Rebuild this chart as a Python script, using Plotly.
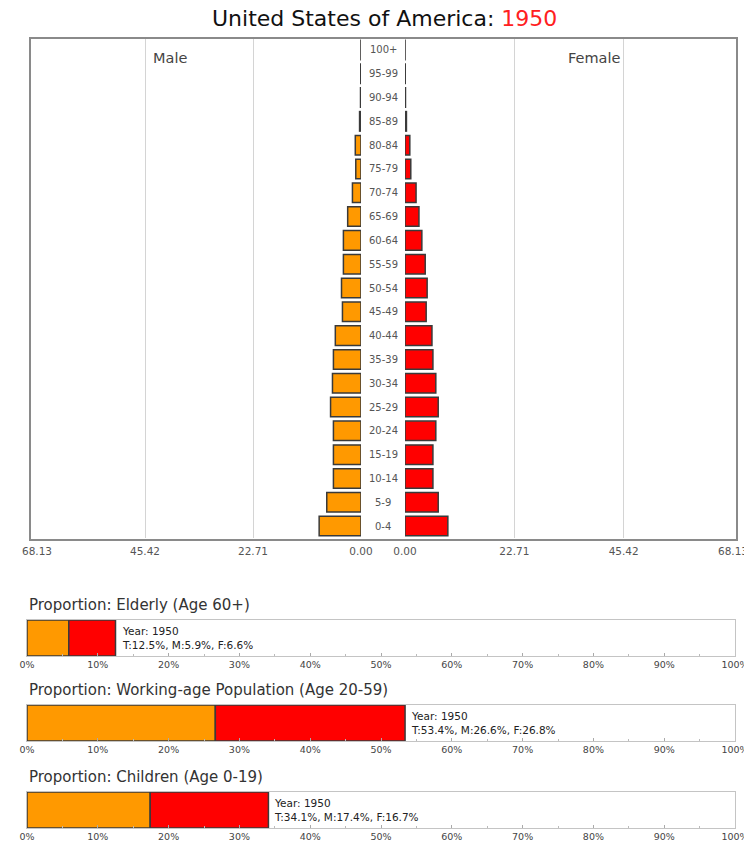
import plotly.graph_objects as go

# page has an 8px body margin, so the figure is drawn 8px in from the corner
OFF = 8
W, H = 752 - OFF, 845 - OFF

age_groups = ["0-4", "5-9", "10-14", "15-19", "20-24", "25-29", "30-34", "35-39",
              "40-44", "45-49", "50-54", "55-59", "60-64", "65-69", "70-74",
              "75-79", "80-84", "85-89", "90-94", "95-99", "100+"]
male_pop = [8.8, 7.2, 5.8, 5.8, 5.8, 6.4, 6.0, 5.8, 5.4, 3.9, 4.1, 3.7, 3.7,
            2.8, 1.8, 1.1, 1.2, 0.3, 0.1, 0.05, 0.01]
female_pop = [8.9, 6.9, 5.8, 5.8, 6.4, 6.9, 6.4, 5.8, 5.6, 4.4, 4.6, 4.2, 3.5,
              2.9, 2.3, 1.2, 1.0, 0.3, 0.1, 0.05, 0.01]
axis_max = 68.13
axis_ticks = [0, 22.71, 45.42, 68.13]
axis_ticktext = ["0.00", "22.71", "45.42", "68.13"]

country = "United States of America"
year = 1950

prop_titles = ["Proportion: Elderly (Age 60+)",
               "Proportion: Working-age Population (Age 20-59)",
               "Proportion: Children (Age 0-19)"]
prop_male = [5.9, 26.6, 17.4]
prop_female = [6.6, 26.8, 16.7]
prop_total = [12.5, 53.4, 34.1]
pct_ticks = list(range(0, 101, 10))
pct_ticktext = [f"{v}%" for v in pct_ticks]

MALE_COLOR = "#FF9900"
FEMALE_COLOR = "#FF0000"
EDGE = "#3a3a3a"
FONT = "DejaVu Sans, Verdana, sans-serif"


def fx(p):
    return (p - OFF) / W


def fy(p):
    return 1 - (p - OFF) / H


fig = go.Figure()

# --- pyramid ---------------------------------------------------------
fig.add_trace(go.Bar(
    y=age_groups, x=male_pop, orientation="h",
    marker=dict(color=MALE_COLOR, line=dict(color=EDGE, width=1.5)),
    xaxis="x", yaxis="y", showlegend=False, name="Male",
))
fig.add_trace(go.Bar(
    y=age_groups, x=female_pop, orientation="h",
    marker=dict(color=FEMALE_COLOR, line=dict(color=EDGE, width=1.5)),
    xaxis="x2", yaxis="y", showlegend=False, name="Female",
))

pyr_axis = dict(
    tickvals=axis_ticks, ticktext=axis_ticktext,
    showgrid=True, gridcolor="#d4d4d4", gridwidth=1,
    zeroline=False, showline=False, ticks="", automargin=False,
    ticklabelstandoff=5,
    tickfont=dict(size=10.5, color="#555"), fixedrange=True,
)
fig.update_layout(
    xaxis=dict(pyr_axis, domain=[fx(37), fx(361)], range=[axis_max, 0], anchor="y"),
    xaxis2=dict(pyr_axis, domain=[fx(405), fx(733)], range=[0, axis_max], anchor="y"),
    yaxis=dict(domain=[fy(538), fy(38)], type="category", range=[-0.5, 20.5],
               showticklabels=False, showgrid=False, zeroline=False,
               automargin=False, anchor="x"),
)

annotations = []
for ag in age_groups:
    annotations.append(dict(
        x=fx(383), y=ag, xref="paper", yref="y", text=ag, showarrow=False,
        font=dict(size=10, color="#555"), xanchor="center", yanchor="middle",
    ))
annotations += [
    dict(x=fx(170), y=fy(58), xref="paper", yref="paper", text="Male",
         showarrow=False, font=dict(size=14.5, color="#444"),
         xanchor="center", yanchor="middle"),
    dict(x=fx(594), y=fy(58), xref="paper", yref="paper", text="Female",
         showarrow=False, font=dict(size=14.5, color="#444"),
         xanchor="center", yanchor="middle"),
    dict(x=fx(384), y=fy(19), xref="paper", yref="paper",
         text=f"{country}: <span style='color:#FF2020'>{year}</span>",
         showarrow=False, font=dict(size=22, color="#111"),
         xanchor="center", yanchor="middle"),
]

shapes = [dict(type="rect", xref="paper", yref="paper",
               x0=fx(30), x1=fx(737), y0=fy(540), y1=fy(38),
               line=dict(color="#8a8a8a", width=2), layer="above")]

# --- proportion panels -----------------------------------------------
box_tops = [620, 705, 792]
box_h = 36
for i in range(3):
    xa = f"x{i + 3}"
    ya = f"y{i + 3}"
    fig.add_trace(go.Bar(
        y=[0], x=[prop_male[i]], orientation="h", width=1,
        marker=dict(color=MALE_COLOR, line=dict(color=EDGE, width=1.5)),
        xaxis=xa, yaxis=ya, showlegend=False,
    ))
    fig.add_trace(go.Bar(
        y=[0], x=[prop_female[i]], base=[prop_male[i]], orientation="h", width=1,
        marker=dict(color=FEMALE_COLOR, line=dict(color=EDGE, width=1.5)),
        xaxis=xa, yaxis=ya, showlegend=False,
    ))
    top = box_tops[i]
    fig.layout[f"xaxis{i + 3}"] = dict(
        domain=[fx(27), fx(735)], range=[0, 100], anchor=ya,
        tickvals=pct_ticks, ticktext=pct_ticktext,
        ticks="inside", ticklen=3, tickcolor="#aaa",
        minor=dict(dtick=5, ticks="inside", ticklen=2, tickcolor="#bbb"),
        showgrid=False, zeroline=False, automargin=False,
        showline=True, mirror=True, linecolor="#c4c4c4", linewidth=1,
        tickfont=dict(size=9.5, color="#444"), fixedrange=True,
    )
    fig.layout[f"yaxis{i + 3}"] = dict(
        domain=[fy(top + box_h), fy(top)], range=[-0.5, 0.5], anchor=xa,
        showticklabels=False, showgrid=False, zeroline=False, automargin=False,
        showline=True, mirror=True, linecolor="#c4c4c4", fixedrange=True,
    )
    annotations.append(dict(
        x=fx(27), y=fy(top - 15), xref="paper", yref="paper",
        text=prop_titles[i], showarrow=False, xanchor="left", yanchor="middle",
        font=dict(size=15, color="#333"),
    ))
    annotations.append(dict(
        x=prop_total[i], y=0, xref=xa, yref=ya, xshift=4,
        text=(f"Year: {year}<br>T:{prop_total[i]}%, M:{prop_male[i]}%, "
              f"F:{prop_female[i]}%"),
        showarrow=False, xanchor="left", yanchor="middle", align="left",
        font=dict(size=10.5, color="#222"),
    ))

fig.update_layout(
    width=W, height=H,
    margin=dict(l=0, r=0, t=0, b=0),
    barmode="overlay", bargap=0.18,
    plot_bgcolor="white", paper_bgcolor="white",
    font=dict(family=FONT),
    annotations=annotations, shapes=shapes,
)

fig.write_html("out.html")
